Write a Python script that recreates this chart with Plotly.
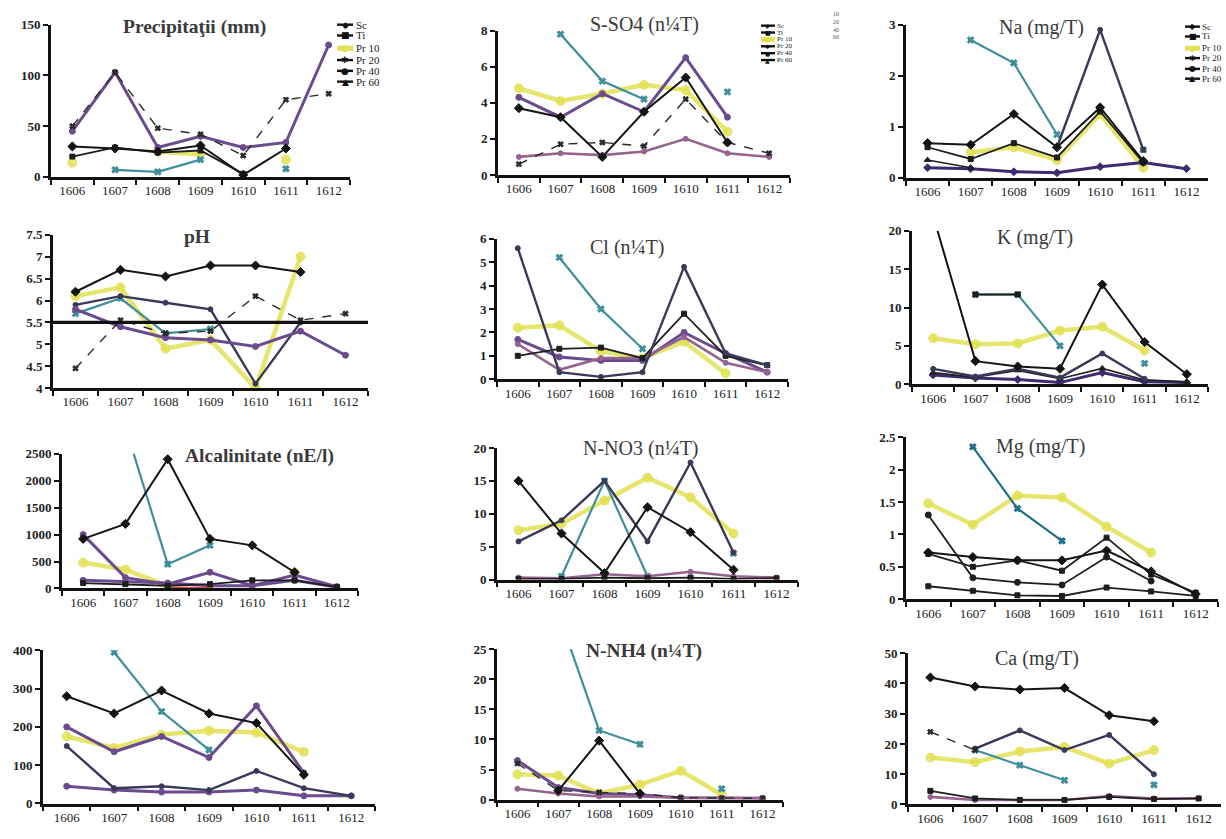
import plotly.graph_objects as go

W, H = 1226, 839
N = None
MONTHS = ["1606", "1607", "1608", "1609", "1610", "1611", "1612"]
LEGEND_NAMES = ["Sc", "Ti", "Pr 10", "Pr 20", "Pr 40", "Pr 60"]

# ---------------- data ----------------
precip = {
    "Pr 10": [14, N, 25, 22, N, 17, N],
    "Pr 20": [N, 7, 5, 17, N, 8, N],
    "Pr 40": [45, 103, 29, 40, 29, 34, 130],
    "Pr 60": [50, 103, 48, 42, 21, 76, 82],
    "Ti":    [20, 29, 24, 26, 3, N, N],
    "Sc":    [30, 28, 25, 31, 2, 28, N],
}
so4 = {
    "Pr 10": [4.8, 4.1, 4.5, 5.0, 4.7, 2.4, N],
    "Pr 20": [N, 7.8, 5.2, 4.2, N, 4.6, N],
    "Pr 40": [4.3, 3.2, 4.5, 3.5, 6.5, 3.2, N],
    "Pr 60": [1.0, 1.2, 1.1, 1.3, 2.0, 1.2, 1.0],
    "Ti":    [0.6, 1.7, 1.8, 1.6, 4.2, 1.8, 1.2],
    "Sc":    [3.7, 3.2, 1.0, 3.5, 5.4, 1.8, N],
}
na = {
    "Pr 10": [N, 0.5, 0.6, 0.35, 1.25, 0.2, N],
    "Pr 20": [N, 2.7, 2.25, 0.85, N, 0.55, N],
    "Pr 40": [N, N, N, 0.6, 2.9, 0.55, N],
    "Pr 60": [0.2, 0.18, 0.12, 0.1, 0.22, 0.3, 0.18],
    "Pr 60b": [0.35, 0.2, N, N, N, N, N],
    "Ti":    [0.6, 0.37, 0.68, 0.4, 1.3, 0.3, N],
    "Sc":    [0.68, 0.65, 1.25, 0.6, 1.38, 0.33, N],
}
ph = {
    "Pr 10": [6.1, 6.3, 4.9, 5.1, 4.0, 7.0, N],
    "Pr 20": [5.7, 6.05, 5.25, 5.35, N, N, N],
    "Pr 40": [5.9, 6.1, 5.95, 5.8, 4.1, 5.5, N],
    "Pr 60": [5.8, 5.4, 5.15, 5.1, 4.95, 5.3, 4.75],
    "Ti":    [4.45, 5.55, 5.25, 5.3, 6.1, 5.55, 5.7],
    "Sc":    [6.2, 6.7, 6.55, 6.8, 6.8, 6.65, N],
}
ph_limit = 5.5
cl = {
    "Pr 10": [2.2, 2.3, 1.2, 0.9, 1.6, 0.25, N],
    "Pr 20": [N, 5.2, 3.0, 1.3, N, N, N],
    "Pr 40": [1.7, 0.95, 0.8, 0.8, 2.0, 1.1, 0.3],
    "Pr 60": [1.5, 0.4, 0.9, 0.9, 1.8, 0.7, 0.3],
    "Ti":    [1.0, 1.3, 1.35, 0.9, 2.8, 1.0, 0.6],
    "Sc":    [5.6, 0.3, 0.1, 0.3, 4.8, 1.1, 0.6],
}
k = {
    "Pr 10": [6.0, 5.2, 5.3, 7.0, 7.5, 4.4, N],
    "Pr 20": [N, 11.7, 11.7, 5.0, N, 2.7, N],
    "Pr 20b": [N, 11.7, 11.7, N, N, N, N],
    "Pr 40": [1.2, 0.8, 0.6, 0.2, 1.5, 0.3, 0.2],
    "Pr 60": [1.5, 0.9, 1.8, 0.7, 2.05, 0.55, 0.3],
    "Ti":    [2.0, 1.0, 2.0, 0.85, 4.0, 0.7, N],
    "Sc":    [22, 3.0, 2.3, 2.0, 13, 5.5, 1.3],
}
alc = {
    "Pr 10": [480, 350, 50, N, N, 300, N],
    "Pr 20": [N, 3000, 450, 800, N, N, N],
    "Pr 40": [1000, 200, 80, 300, 50, 150, 20],
    "Pr 60": [150, 120, 100, 50, 50, 250, 30],
    "Pr 60b": [N, N, 10, 10, N, N, N],
    "Ti":    [100, 80, 50, 80, 150, 150, 30],
    "Sc":    [920, 1200, 2400, 920, 800, 300, N],
}
no3 = {
    "Pr 10": [7.5, 8.5, 12, 15.5, 12.5, 7.0, N],
    "Pr 20": [N, 0.5, 15, 0.5, N, 4.0, N],
    "Pr 40": [5.8, 9.0, 15, 5.8, 17.8, 4.1, N],
    "Ti":    [0.3, 0.2, 0.8, 0.5, 1.2, 0.5, 0.3],
    "Pr 60": [0.1, 0.1, 0.3, 0.2, 0.3, 0.1, 0.2],
    "Sc":    [15, 7.0, 1.0, 11, 7.2, 1.5, N],
}
mg = {
    "Pr 10": [1.48, 1.15, 1.6, 1.57, 1.12, 0.72, N],
    "Pr 20": [N, 2.35, 1.4, 0.9, N, N, N],
    "Pr 40": [1.3, 0.33, 0.26, 0.22, 0.65, 0.28, N],
    "Ti":    [0.7, 0.5, 0.6, 0.44, 0.95, 0.38, 0.1],
    "Pr 60": [0.2, 0.13, 0.06, 0.05, 0.18, 0.12, 0.05],
    "Sc":    [0.72, 0.65, 0.6, 0.6, 0.75, 0.43, 0.08],
}
hco3 = {
    "Pr 10": [175, 145, 180, 190, 185, 135, N],
    "Pr 20": [N, 395, 240, 140, N, N, N],
    "Pr 40": [200, 135, 175, 120, 255, 80, N],
    "Pr 60": [45, 35, 30, 30, 35, 20, 20],
    "Ti":    [150, 40, 45, 35, 85, 40, 20],
    "Sc":    [280, 235, 295, 235, 210, 75, N],
}
nh4 = {
    "Pr 10": [4.2, 4.0, 1.0, 2.5, 4.8, 0.8, N],
    "Pr 20": [N, 31, 11.5, 9.2, N, 1.8, N],
    "Pr 40": [6.5, 2.0, 1.0, 0.8, 0.3, 0.2, 0.2],
    "Pr 60": [1.8, 1.0, 0.5, 0.5, 0.3, 0.3, 0.2],
    "Ti":    [6.0, 1.5, 1.2, 1.0, 0.3, 0.2, 0.2],
    "Sc":    [N, 1.5, 9.8, 1.0, N, N, N],
}
ca = {
    "Pr 10": [15.5, 14, 17.5, 19, 13.5, 18, N],
    "Pr 20": [N, 18, 13, 8, N, 6.5, N],
    "Pr 40": [N, 18.5, 24.5, 18, 23, 10, N],
    "Pr 60b": [2.5, 1.5, 1.5, 1.5, 2.8, 2.0, 2.0],
    "Pr 60": [4.5, 2.0, 1.5, 1.5, 2.5, 1.8, 2.0],
    "Ti":    [24, 18, N, N, N, N, N],
    "Sc":    [42, 39, 38, 38.5, 29.5, 27.5, N],
}

# ---------------- styles ----------------
STYLES = {
    "yellow":  dict(color="rgba(226,224,84,0.85)", width=4.5, symbol="circle", size=9),
    "teal":    dict(color="#3f8e9c", width=2.2, symbol="x", size=6),
    "tealdk":  dict(color="#1f6f8a", width=2.2, symbol="x", size=6),
    "purple":  dict(color="#6a4c8e", width=3, symbol="circle", size=6),
    "purple2": dict(color="#94648f", width=2.6, symbol="circle", size=5),
    "dkpurp":  dict(color="#3e2a6e", width=3, symbol="diamond", size=6),
    "slate":   dict(color="#3a3a58", width=2.4, symbol="circle", size=5),
    "black_d": dict(color="#141414", width=2, symbol="diamond", size=7),
    "black_s": dict(color="#1e1e1e", width=1.8, symbol="square", size=5),
    "black_c": dict(color="#1e1e1e", width=1.8, symbol="circle", size=6),
    "black_x": dict(color="#2a2a2a", width=1.4, symbol="x", size=5, dash="dash"),
    "black_t": dict(color="#202020", width=1.6, symbol="triangle-up", size=6),
    "red":     dict(color="#c8504a", width=2.4, symbol="circle", size=4),
}

precip_style = {"Pr 10": "yellow", "Pr 20": "teal", "Pr 40": "purple", "Pr 60": "black_x",
                "Ti": "black_s", "Sc": "black_d"}
so4_style = {"Pr 10": "yellow", "Pr 20": "teal", "Pr 40": "purple", "Pr 60": "purple2",
             "Ti": "black_x", "Sc": "black_d"}
na_style = {"Pr 10": "yellow", "Pr 20": "teal", "Pr 40": "slate", "Pr 60": "dkpurp",
            "Pr 60b": "black_t", "Ti": "black_s", "Sc": "black_d"}
ph_style = {"Pr 10": "yellow", "Pr 20": "teal", "Pr 40": "slate", "Pr 60": "purple",
            "Ti": "black_x", "Sc": "black_d"}
cl_style = {"Pr 10": "yellow", "Pr 20": "teal", "Pr 40": "purple", "Pr 60": "purple2",
            "Ti": "black_s", "Sc": "slate"}
k_style = {"Pr 10": "yellow", "Pr 20": "teal", "Pr 20b": "black_s", "Pr 40": "dkpurp",
           "Pr 60": "black_t", "Ti": "slate", "Sc": "black_d"}
alc_style = {"Pr 10": "yellow", "Pr 20": "teal", "Pr 40": "purple", "Pr 60": "purple",
             "Pr 60b": "red", "Ti": "black_s", "Sc": "black_d"}
no3_style = {"Pr 10": "yellow", "Pr 20": "teal", "Pr 40": "slate", "Ti": "purple2",
             "Pr 60": "black_s", "Sc": "black_d"}
mg_style = {"Pr 10": "yellow", "Pr 20": "tealdk", "Pr 40": "black_c", "Ti": "black_s",
            "Pr 60": "black_s", "Sc": "black_d"}
hco3_style = {"Pr 10": "yellow", "Pr 20": "teal", "Pr 40": "purple", "Pr 60": "purple",
              "Ti": "slate", "Sc": "black_d"}
nh4_style = {"Pr 10": "yellow", "Pr 20": "teal", "Pr 40": "purple", "Pr 60": "purple2",
             "Ti": "black_x", "Sc": "black_d"}
ca_style = {"Pr 10": "yellow", "Pr 20": "teal", "Pr 40": "slate", "Pr 60b": "purple2",
            "Pr 60": "black_s", "Ti": "black_x", "Sc": "black_d"}

# panel layout in pixels: (x_left, x_right, y_bottom, y_top)
PANELS = [
    dict(data=precip, style=precip_style, box=(51, 350, 173, 18), yr=[0, 150], dt=50,
         title="Precipitaţii (mm)", tpos=(194, 20), bold=True),
    dict(data=so4, style=so4_style, box=(498, 790, 171, 24), yr=[0, 8], dt=2,
         title="S-SO4 (n¼T)", tpos=(644, 18), bold=False),
    dict(data=na, style=na_style, box=(906, 1208, 174, 18), yr=[0, 3], dt=1,
         title="Na (mg/T)", tpos=(1041, 21), bold=False),
    dict(data=ph, style=ph_style, box=(53, 368, 388, 232), yr=[4, 7.5], dt=0.5,
         title="pH", tpos=(197, 234), bold=True),
    dict(data=cl, style=cl_style, box=(497, 788, 379, 236), yr=[0, 6], dt=1,
         title="Cl (n¼T)", tpos=(627, 245), bold=False),
    dict(data=k, style=k_style, box=(912, 1208, 384, 228), yr=[0, 20], dt=5,
         title="K (mg/T)", tpos=(1035, 235), bold=False),
    dict(data=alc, style=alc_style, box=(62, 358, 592, 455), yr=[0, 2500], dt=500,
         title="Alcalinitate (nE/l)", tpos=(259, 457), bold=True),
    dict(data=no3, style=no3_style, box=(497, 798, 583, 449), yr=[0, 20], dt=5,
         title="N-NO3 (n¼T)", tpos=(641, 450), bold=False),
    dict(data=mg, style=mg_style, box=(906, 1218, 603, 438), yr=[0, 2.5], dt=0.5,
         title="Mg (mg/T)", tpos=(1040, 447), bold=False),
    dict(data=hco3, style=hco3_style, box=(43, 375, 811, 655), yr=[0, 400], dt=100,
         title="", tpos=(200, 660), bold=False),
    dict(data=nh4, style=nh4_style, box=(497, 783, 807, 654), yr=[0, 25], dt=5,
         title="N-NH4 (n¼T)", tpos=(644, 656), bold=True),
    dict(data=ca, style=ca_style, box=(908, 1221, 812, 658), yr=[0, 50], dt=10,
         title="Ca (mg/T)", tpos=(1037, 663), bold=False),
]

FONT = "Liberation Serif"


def fx(px):
    return px / W


def fy(py):
    return 1 - py / H


fig = go.Figure()
layout = dict(width=W, height=H, autosize=False, margin=dict(l=0, r=0, t=0, b=0),
              paper_bgcolor="white", plot_bgcolor="white", showlegend=False,
              font=dict(family=FONT, color="#1a1a1a"))
annotations = []
shapes = []

for i, p in enumerate(PANELS, start=1):
    sfx = "" if i == 1 else str(i)
    xa, ya = "x" + sfx, "y" + sfx
    for key, vals in p["data"].items():
        st = STYLES[p["style"][key]]
        fig.add_trace(go.Scatter(
            x=MONTHS, y=vals, mode="lines+markers", name=key, xaxis=xa, yaxis=ya,
            line=dict(color=st["color"], width=st["width"], dash=st.get("dash", "solid")),
            marker=dict(symbol=st["symbol"], size=st["size"], color=st["color"],
                        line=dict(width=1, color=st["color"])),
            connectgaps=False, showlegend=False, hoverinfo="skip"))
    x0, x1, yb, yt = p["box"]
    layout["xaxis" + sfx] = dict(
        domain=[fx(x0), fx(x1)], anchor=ya, type="category",
        categoryorder="array", categoryarray=MONTHS, range=[-0.5, 6.5],
        showline=True, linecolor="#111", linewidth=2.6, mirror=False,
        ticks="outside", tickson="boundaries", ticklen=5, tickwidth=2, tickcolor="#111",
        showgrid=False, zeroline=False,
        tickfont=dict(family=FONT, size=13, color="#222"))
    layout["yaxis" + sfx] = dict(
        domain=[fy(yb), fy(yt)], anchor=xa, range=p["yr"], autorange=False,
        tick0=p["yr"][0], dtick=p["dt"],
        showline=True, linecolor="#111", linewidth=2.6,
        ticks="outside", ticklen=5, tickwidth=2, tickcolor="#111",
        showgrid=False, zeroline=False,
        tickfont=dict(family=FONT, size=13, color="#222", weight="bold"))
    if p["title"]:
        annotations.append(dict(
            text=p["title"], x=fx(p["tpos"][0]), y=fy(p["tpos"][1]), xref="paper", yref="paper",
            xanchor="center", yanchor="middle", showarrow=False,
            font=dict(family=FONT, size=19.5 if p["bold"] else 20, color="#3a3a3a",
                      weight="bold" if p["bold"] else "normal")))

# pH reference line at 5.5
shapes.append(dict(type="line", xref="x4 domain", yref="y4", x0=0, x1=1,
                   y0=ph_limit, y1=ph_limit, line=dict(color="#111", width=3.2)))

# ---------------- manual legends (first row) ----------------
LEG_GLYPH = {"Sc": "◆", "Ti": "■", "Pr 10": "●", "Pr 20": "✱", "Pr 40": "●", "Pr 60": "▲"}


def add_legend(lx0, lx1, tx, ys, fsize, gsize):
    for name, yy in zip(LEGEND_NAMES, ys):
        col = "#e2e054" if name == "Pr 10" else "#111"
        wid = 5 if name == "Pr 10" else 2.4
        shapes.append(dict(type="line", xref="paper", yref="paper", x0=fx(lx0), x1=fx(lx1),
                           y0=fy(yy), y1=fy(yy), line=dict(color=col, width=wid)))
        annotations.append(dict(text=LEG_GLYPH[name], x=fx((lx0 + lx1) / 2), y=fy(yy),
                                xref="paper", yref="paper", xanchor="center", yanchor="middle",
                                showarrow=False,
                                font=dict(family="DejaVu Sans", size=gsize, color=col)))
        annotations.append(dict(text=name, x=fx(tx), y=fy(yy), xref="paper", yref="paper",
                                xanchor="left", yanchor="middle", showarrow=False,
                                font=dict(family=FONT, size=fsize, color="#222")))


add_legend(337, 353, 354, [18, 29, 42, 54, 65, 76], 11, 9)
add_legend(761, 775, 775, [19, 26, 33, 40, 47, 54], 7, 6)
add_legend(1185, 1200, 1200, [20, 30, 42, 52, 63, 73], 9, 8)

# remnant of a clipped legend in the scan
annotations.append(dict(text="10<br>20<br>40<br>60", x=fx(836), y=fy(19), xref="paper",
                        yref="paper", xanchor="center", yanchor="middle", showarrow=False,
                        font=dict(family=FONT, size=6, color="#555")))

layout["annotations"] = annotations
layout["shapes"] = shapes
fig.update_layout(**layout)
fig.write_html("out.html")
